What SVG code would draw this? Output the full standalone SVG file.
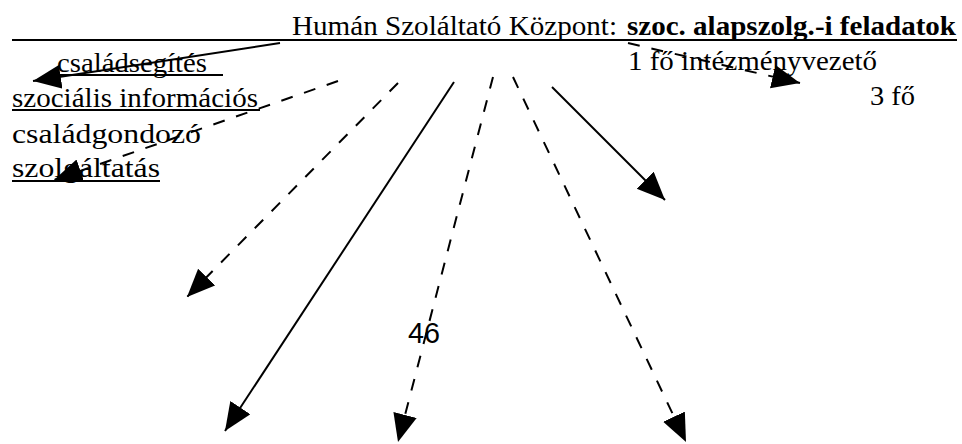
<svg xmlns="http://www.w3.org/2000/svg" width="962" height="444" viewBox="0 0 962 444">
<style>
text{font-family:"Liberation Serif","Times New Roman",serif;font-size:28px;fill:#000}
.b{font-weight:bold}
.ul{stroke:#000;stroke-width:1.8}
.c{stroke:#000;stroke-width:2;fill:none}
.d{stroke-dasharray:12 12}
.n{font-family:"Liberation Sans",Arial,sans-serif;font-size:29px}
</style>
<defs>
<marker id="ah" markerUnits="userSpaceOnUse" markerWidth="30" markerHeight="26" refX="28" refY="12" orient="auto">
<path d="M0,0 L28,12 L0,24 Z" fill="#000"/>
</marker>
</defs>
<rect width="962" height="444" fill="#fff"/>
<g id="header">
<text x="292" y="35" textLength="325" lengthAdjust="spacingAndGlyphs">Humán Szoláltató Központ:</text>
<text class="b" x="627" y="35" textLength="329" lengthAdjust="spacingAndGlyphs">szoc. alapszolg.-i feladatok</text>
<line class="ul" x1="12" y1="40" x2="957" y2="40"/>
</g>
<g id="csaladsegites">
<text x="57" y="72" textLength="150" lengthAdjust="spacingAndGlyphs">családsegítés</text>
<line class="ul" x1="57" y1="75" x2="223" y2="75"/>
</g>
<g id="szocialis">
<text x="12" y="107" textLength="246" lengthAdjust="spacingAndGlyphs">szociális információs</text>
<line class="ul" x1="12" y1="110" x2="260" y2="110"/>
</g>
<g id="csaladgondozo">
<text x="12" y="143" textLength="189" lengthAdjust="spacingAndGlyphs">családgondozó</text>
</g>
<g id="szolgaltatas">
<text x="12" y="177" textLength="148" lengthAdjust="spacingAndGlyphs">szolgáltatás</text>
<line class="ul" x1="12" y1="181" x2="160" y2="181"/>
</g>
<g id="intezmenyvezeto">
<text x="628" y="70" textLength="249" lengthAdjust="spacingAndGlyphs">1 fő intézményvezető</text>
</g>
<g id="harom-fo">
<text x="870" y="105" textLength="45" lengthAdjust="spacingAndGlyphs">3 fő</text>
</g>
<g id="negyvenhat">
<text class="n" x="408" y="343" textLength="32" lengthAdjust="spacingAndGlyphs">46</text>
</g>
<g id="connectors">
<line class="c" x1="280" y1="43" x2="33" y2="81" marker-end="url(#ah)"/>
<line class="c d" x1="338" y1="81" x2="54" y2="180" marker-end="url(#ah)"/>
<line class="c d" x1="398" y1="83" x2="187" y2="297" marker-end="url(#ah)"/>
<line class="c" x1="454" y1="82" x2="225" y2="431" marker-end="url(#ah)"/>
<line class="c d" x1="493" y1="77" x2="398" y2="442" marker-end="url(#ah)"/>
<line class="c d" x1="513" y1="77" x2="686" y2="442" marker-end="url(#ah)"/>
<line class="c" x1="552" y1="87" x2="665" y2="200" marker-end="url(#ah)"/>
<line class="c d" x1="628" y1="43" x2="800" y2="83" marker-end="url(#ah)"/>
</g>
</svg>
